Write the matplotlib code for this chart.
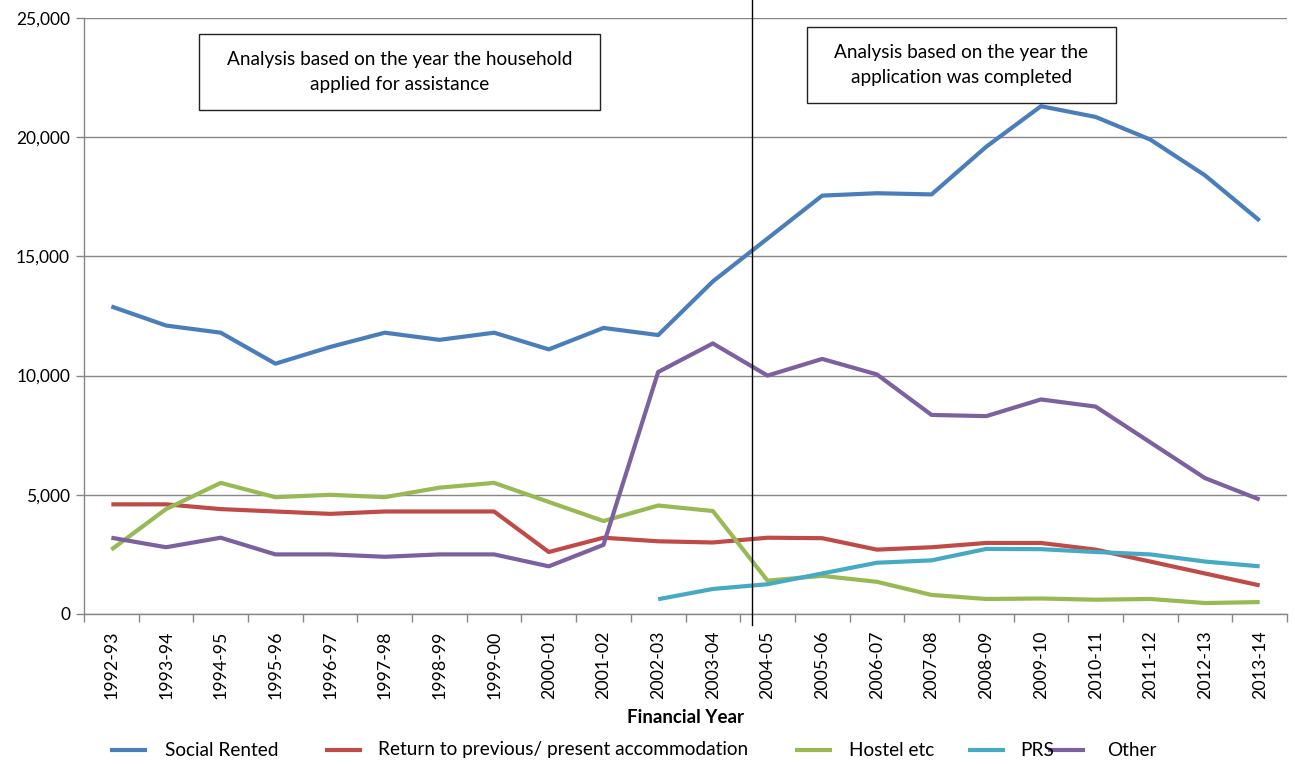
import matplotlib
matplotlib.use("Agg")
import matplotlib.pyplot as plt
from matplotlib.lines import Line2D
from matplotlib.patches import Rectangle
import numpy as np

plt.rcParams['font.family'] = ['Lato', 'DejaVu Sans']

years = ["1992-93", "1993-94", "1994-95", "1995-96", "1996-97", "1997-98",
         "1998-99", "1999-00", "2000-01", "2001-02", "2002-03", "2003-04",
         "2004-05", "2005-06", "2006-07", "2007-08", "2008-09", "2009-10",
         "2010-11", "2011-12", "2012-13", "2013-14"]

social_rented = [12900, 12100, 11800, 10500, 11200, 11800, 11500, 11800, 11100,
                 12000, 11700, 13950, 15750, 17550, 17650, 17600, 19600, 21300,
                 20850, 19900, 18400, 16500]
return_prev = [4600, 4600, 4400, 4300, 4200, 4300, 4300, 4300, 2600, 3200,
               3050, 3000, 3200, 3180, 2700, 2800, 2980, 2980, 2700, 2200,
               1700, 1200]
hostel = [2700, 4400, 5500, 4900, 5000, 4900, 5300, 5500, 4700, 3900, 4550,
          4320, 1400, 1600, 1350, 800, 630, 650, 600, 630, 460, 500]
prs = [None] * 10 + [620, 1050, 1250, 1700, 2150, 2250, 2730, 2720, 2600,
                     2500, 2200, 2000]
other = [3200, 2800, 3200, 2500, 2500, 2400, 2500, 2500, 2000, 2900, 10150,
         11350, 10000, 10700, 10050, 8350, 8300, 9000, 8700, 7200, 5700, 4800]

series_names = ["Social Rented", "Return to previous/ present accommodation",
                "Hostel etc", "PRS", "Other"]
series_values = [social_rented, return_prev, hostel, prs, other]
colors = ["#4A7EBB", "#BE4B48", "#98B954", "#46AAC5", "#7D60A0"]

W, H = 1295, 764
fig = plt.figure(figsize=(W / 100, H / 100), dpi=100)
ax = fig.add_axes([84 / W, 1 - 614 / H, (1287 - 84) / W, (614 - 18) / H])

x = np.arange(len(years))
for vals, col in zip(series_values, colors):
    y = np.array([np.nan if v is None else v for v in vals], dtype=float)
    ax.plot(x, y, color=col, lw=3.0, solid_joinstyle='round',
            solid_capstyle='butt', zorder=3)

ax.set_xlim(-0.5, len(years) - 0.5)
ax.set_ylim(0, 25000)
ax.set_yticks(np.arange(0, 25001, 5000))
ax.set_yticklabels([f"{v:,}" for v in range(0, 25001, 5000)], fontsize=12.5)
ax.yaxis.grid(True, color="#868686", lw=1)
ax.set_axisbelow(True)

ax.set_xticks(x)
ax.set_xticklabels(years, rotation=90, fontsize=12.8)
ax.tick_params(axis='x', which='major', length=0, pad=12)
ax.set_xticks(np.arange(-0.5, len(years), 1), minor=True)
ax.tick_params(axis='x', which='minor', length=6, color="#868686", width=1)
ax.tick_params(axis='y', length=6, color="#868686", width=1, pad=4)

for s in ("top", "right"):
    ax.spines[s].set_visible(False)
for s in ("left", "bottom"):
    ax.spines[s].set_color("#868686")
    ax.spines[s].set_linewidth(1)

ax.set_xlabel("Financial Year", fontsize=13.5, fontweight='bold', labelpad=7)

# Divider between the two analysis methods
ax.plot([11.71, 11.71], [25750, -450], color="black", lw=1,
        clip_on=False, zorder=4)

# Annotation boxes
def box(x0, y0, x1, y1, lines):
    fig.add_artist(Rectangle((x0 / W, 1 - y1 / H), (x1 - x0) / W,
                             (y1 - y0) / H, transform=fig.transFigure,
                             facecolor="white", edgecolor="#222222", lw=1,
                             zorder=5))
    fig.text((x0 + x1) / 2 / W, 1 - (y0 + y1) / 2 / H, "\n".join(lines),
             ha='center', va='center', fontsize=13.7, linespacing=1.55,
             zorder=6)

box(199, 34, 600, 110, ["Analysis based on the year the household",
                        "applied for assistance"])
box(807, 27, 1116, 103, ["Analysis based on the year the",
                         "application was completed"])

# Legend
legend_line_x = [110, 325, 795, 968, 1048]
legend_text_x = [165, 378, 849, 1020, 1107]
ly = 1 - 750 / H
for name, col, lx, tx in zip(series_names, colors, legend_line_x, legend_text_x):
    fig.add_artist(Line2D([lx / W, (lx + 37) / W], [ly, ly], color=col,
                          lw=3.0, solid_capstyle='butt',
                          transform=fig.transFigure))
    fig.text(tx / W, ly, name, ha='left', va='center', fontsize=13.7)

fig.savefig("out.png", dpi=100)
